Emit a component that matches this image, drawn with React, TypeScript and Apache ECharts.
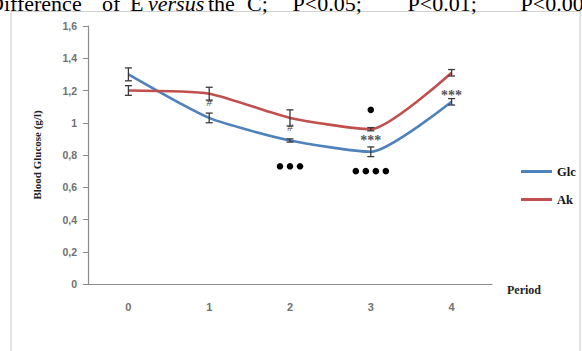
import React, { useEffect, useRef } from "react";
import * as echarts from "echarts";

// Sampling periods on the x axis
const periods = ["0", "1", "2", "3", "4"];

// Mean blood glucose (g/l) and standard error per period
const glcMean = [1.3, 1.03, 0.89, 0.82, 1.13];
const glcErr = [0.04, 0.03, 0.01, 0.03, 0.02];
const akMean = [1.2, 1.18, 1.03, 0.96, 1.31];
const akErr = [0.03, 0.04, 0.05, 0.01, 0.02];

// Significance markers: [period index, value position, text]
const hashMarks: [number, number, string][] = [
  [1, 1.13, "#"],
  [2, 0.975, "#"],
];
const starMarks: [number, number, string][] = [
  [3, 0.91, "***"],
  [4, 1.19, "***"],
];
// Dot markers: [period index, value position, dot count]
const dotMarks: [number, number, number][] = [
  [2, 0.73, 3],
  [3, 1.08, 1],
  [3, 0.7, 4],
];

// Caption words above the frame (justified line): [text, left x, italic]
const captionWords: [string, number, boolean][] = [
  ["Difference", -12, false],
  ["of", 102, false],
  ["E", 130, false],
  ["versus", 148, true],
  ["the", 208, false],
  ["C;", 247, false],
  ["* P<0.05;", 280, false],
  ["** P<0.01;", 388, false],
  ["*** P<0.001", 494, false],
];

const BLUE = "#4F81BD";
const RED = "#C0504D";
const AXIS = "#8c8c8c";
const SERIF = "'Liberation Serif', 'Times New Roman', serif";
const SANS = "'Liberation Sans', Arial, sans-serif";

function errorBarItem(color: string) {
  return (params: any, api: any) => {
    const x = api.value(0);
    const m = api.value(1);
    const e = api.value(2);
    const top = api.coord([x, m + e]);
    const bot = api.coord([x, m - e]);
    const w = 3.5;
    const style = { stroke: color, lineWidth: 1.3 };
    return {
      type: "group",
      children: [
        { type: "line", shape: { x1: top[0], y1: top[1], x2: bot[0], y2: bot[1] }, style },
        { type: "line", shape: { x1: top[0] - w, y1: top[1], x2: top[0] + w, y2: top[1] }, style },
        { type: "line", shape: { x1: bot[0] - w, y1: bot[1], x2: bot[0] + w, y2: bot[1] }, style },
      ],
    };
  };
}

function captionText(word: string, italic: boolean) {
  // Asterisks sit as small superscripts, above the visible strip
  const m = word.match(/^(\*+) (.*)$/);
  if (m) return `{s|${m[1]}}{n| ${m[2]}}`;
  return italic ? `{i|${word}}` : `{n|${word}}`;
}

export default function App() {
  const ref = useRef<HTMLDivElement>(null);

  useEffect(() => {
    if (!ref.current) return;
    const chart = echarts.init(ref.current, null, { renderer: "svg" });

    const captionRich = {
      n: { fontFamily: SERIF, fontSize: 22, fill: "#000" },
      i: { fontFamily: SERIF, fontSize: 22, fontStyle: "italic", fill: "#000" },
      s: { fontFamily: SERIF, fontSize: 14, fill: "#000", verticalAlign: "top" },
    };

    const option: any = {
      animation: false,
      backgroundColor: "#ffffff",
      grid: { left: 88, right: 90, top: 26, bottom: 67 },
      graphic: [
        {
          type: "rect",
          shape: { x: 11, y: 11.5, width: 569, height: 360 },
          style: { fill: "none", stroke: "#d0d0d0", lineWidth: 1.2 },
          z: -1,
        },
        ...captionWords.map(([word, x, italic]) => ({
          type: "text",
          x,
          y: 14,
          style: {
            text: captionText(word, italic),
            verticalAlign: "bottom",
            rich: captionRich,
          },
        })),
      ],
      legend: {
        orient: "vertical",
        left: 516,
        top: 160,
        icon: "rect",
        itemWidth: 31,
        itemHeight: 3,
        itemGap: 15,
        data: ["Glc", "Ak"],
        textStyle: { fontFamily: SERIF, fontWeight: "bold", fontSize: 12.5, color: "#111" },
      },
      xAxis: {
        type: "category",
        data: periods,
        boundaryGap: true,
        name: "Period",
        nameLocation: "end",
        nameGap: 15,
        nameTextStyle: {
          fontFamily: SERIF,
          fontWeight: "bold",
          fontSize: 12,
          color: "#222",
          verticalAlign: "top",
        },
        axisLine: { lineStyle: { color: AXIS, width: 1.2 } },
        axisTick: { show: false },
        axisLabel: { margin: 17, fontFamily: SANS, fontSize: 11, fontWeight: "bold", color: "#707070" },
      },
      yAxis: {
        type: "value",
        min: 0,
        max: 1.6,
        interval: 0.2,
        name: "Blood Glucose (g/l)",
        nameLocation: "middle",
        nameGap: 46,
        nameRotate: 90,
        nameTextStyle: { fontFamily: SERIF, fontWeight: "bold", fontSize: 11, color: "#222" },
        axisLine: { show: true, lineStyle: { color: AXIS, width: 1.2 } },
        axisTick: { show: true, inside: false, length: 5, lineStyle: { color: AXIS } },
        splitLine: { show: false },
        axisLabel: {
          margin: 11,
          fontFamily: SANS,
          fontSize: 10.5,
          fontWeight: "bold",
          color: "#707070",
          formatter: (v: number) => String(Number(v.toFixed(1))).replace(".", ","),
        },
      },
      series: [
        {
          name: "Glc",
          type: "line",
          data: glcMean,
          symbol: "none",
          smooth: 0.2,
          color: BLUE,
          lineStyle: { color: BLUE, width: 2.6 },
          z: 3,
        },
        {
          name: "Ak",
          type: "line",
          data: akMean,
          symbol: "none",
          smooth: 0.2,
          color: RED,
          lineStyle: { color: RED, width: 2.6 },
          z: 3,
        },
        {
          type: "custom",
          renderItem: errorBarItem("#3a3a3a"),
          data: glcMean.map((m, i) => [i, m, glcErr[i]]),
          z: 5,
          silent: true,
        },
        {
          type: "custom",
          renderItem: errorBarItem("#3a3a3a"),
          data: akMean.map((m, i) => [i, m, akErr[i]]),
          z: 5,
          silent: true,
        },
        {
          type: "custom",
          z: 6,
          silent: true,
          data: hashMarks,
          renderItem: (params: any, api: any) => {
            const p = api.coord([api.value(0), api.value(1)]);
            return {
              type: "text",
              x: p[0],
              y: p[1],
              style: {
                text: "#",
                fontFamily: SERIF,
                fontStyle: "italic",
                fontSize: 11,
                fill: "#444",
                align: "center",
                verticalAlign: "middle",
              },
            };
          },
        },
        {
          type: "custom",
          z: 6,
          silent: true,
          data: starMarks,
          renderItem: (params: any, api: any) => {
            const p = api.coord([api.value(0), api.value(1)]);
            return {
              type: "text",
              x: p[0],
              y: p[1] + 3,
              style: {
                text: "***",
                fontFamily: SERIF,
                fontWeight: "bold",
                fontSize: 14,
                fill: "#555",
                align: "center",
                verticalAlign: "middle",
              },
            };
          },
        },
        {
          type: "custom",
          z: 6,
          silent: true,
          data: dotMarks,
          renderItem: (params: any, api: any) => {
            const p = api.coord([api.value(0), api.value(1)]);
            const n = api.value(2);
            const gap = 10;
            const children = [];
            for (let k = 0; k < n; k++) {
              children.push({
                type: "circle",
                shape: { cx: p[0] + (k - (n - 1) / 2) * gap, cy: p[1], r: 3.3 },
                style: { fill: "#000" },
              });
            }
            return { type: "group", children };
          },
        },
      ],
    };

    chart.setOption(option);
    return () => chart.dispose();
  }, []);

  return (
    <div
      ref={ref}
      style={{ position: "fixed", left: 0, top: 0, width: 582, height: 351, background: "#fff" }}
    />
  );
}
